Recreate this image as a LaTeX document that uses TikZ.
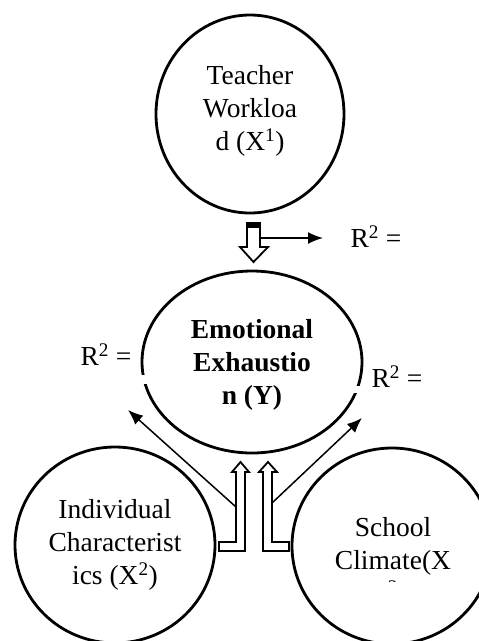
\documentclass[tikz,border=0pt]{standalone}
\usepackage{fontspec}
\setmainfont{Liberation Serif}
\usetikzlibrary{shapes.geometric,arrows.meta}
\begin{document}
\begin{tikzpicture}[x=1pt,y=-1pt,
  bubble/.style={draw,ellipse,line width=2.8pt,inner sep=0pt},
  lbl/.style={align=center,font=\fontsize{27.5}{33}\selectfont,inner sep=0pt},
  thinarrow/.style={line width=1.5pt,-{Latex[length=15pt,width=12pt]}},
  hollow/.style={draw,fill=white,line width=1.8pt,line join=miter}]
\useasboundingbox (0,0) rectangle (479,641);
\clip (0,0) rectangle (479,641);
% circles
\node[bubble,minimum width=188pt,minimum height=198pt] (x1) at (250,114) {};
\node[lbl] (t1) at (250,111) {Teacher\\Workloa\\d (X\textsuperscript{1})};
\node[bubble,minimum width=220pt,minimum height=182pt] (y) at (252,362) {};
\node[lbl,font=\fontsize{27.5}{33}\selectfont\bfseries] (ty) at (252,365) {Emotional\\Exhaustio\\n (Y)};
\fill[white] (136,375) rectangle (149,384);
\fill[white] (349,386) rectangle (363,393);
\node[bubble,minimum width=200pt,minimum height=196pt] (x2) at (115,545) {};
\node[lbl] (t2) at (115,545) {Individual\\Characterist\\ics (X\textsuperscript{2})};
\node[bubble,minimum width=200pt,minimum height=196pt] (x3) at (392,546) {};
\begin{scope}
\clip (300,480) rectangle (479,581);
\node[lbl] (t3) at (393,560) {School\\Climate(X\\\textsuperscript{3}};
\end{scope}
% R^2 labels
\node[lbl] (r1) at (376,237) {R\textsuperscript{2} =};
\node[lbl] (r2) at (106,355) {R\textsuperscript{2} =};
\node[lbl] (r3) at (397,377) {R\textsuperscript{2} =};
% top hollow arrow
\draw[hollow] (247,223) -- (260,223) -- (260,247) -- (268,247) -- (253.5,262) -- (240,247) -- (247,247) -- cycle;
\fill (247,222.5) rectangle (260,227.5);
\coordinate (a1) at (261,238);
\coordinate (a1e) at (323,238);
\draw[thinarrow] (a1) -- (a1e);
% L-shaped hollow arrows
\draw[hollow] (219,542) -- (236,542) -- (236,472) -- (232,472) -- (240.5,462) -- (249,472) -- (245,472) -- (245,551) -- (219,551) -- cycle;
\draw[hollow] (289,542) -- (272,542) -- (272,472) -- (277,472) -- (268,462) -- (259,472) -- (263,472) -- (263,551) -- (289,551) -- cycle;
% thin diagonal arrows
\coordinate (b1) at (236,507);
\coordinate (b1e) at (128,410);
\coordinate (b2) at (272,503);
\coordinate (b2e) at (362,418);
\draw[thinarrow] (b1) -- (b1e);
\draw[thinarrow] (b2) -- (b2e);
\end{tikzpicture}
\end{document}
